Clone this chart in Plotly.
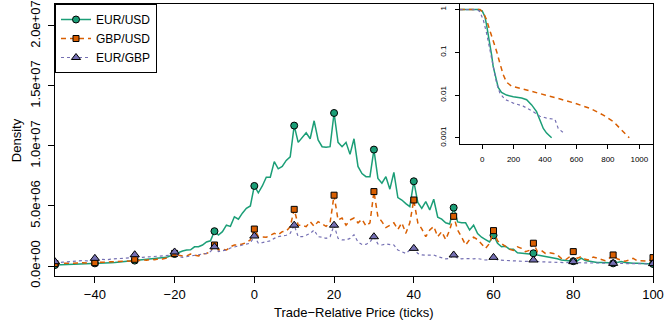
import numpy as np
import plotly.graph_objects as go

# precio relativo (ticks) y densidades, en millones
ticks = list(range(-50, 101))

eur_usd_mln = [
    0.08, 0.09, 0.10, 0.11, 0.12, 0.13, 0.14, 0.15, 0.16, 0.17,
    0.22, 0.22, 0.24, 0.26, 0.28, 0.30, 0.33, 0.36, 0.38, 0.40,
    0.45, 0.47, 0.50, 0.52, 0.55, 0.57, 0.60, 0.65, 0.72, 0.85,
    1.00, 1.10, 1.25, 1.33, 1.35, 1.60, 1.60, 1.75, 2.00, 2.10,
    2.90, 2.58, 2.86, 3.40, 3.30, 4.10, 3.90, 4.40, 4.80, 5.00,
    6.67, 6.10, 6.67, 7.40, 7.40, 8.70, 8.10, 8.30, 8.80, 9.10,
    11.70, 10.30, 10.70, 11.10, 10.60, 12.10, 10.50, 9.94, 9.90, 9.94,
    12.75, 10.30, 9.94, 10.30, 9.30, 10.60, 8.30, 7.70, 7.44, 7.44,
    9.70, 7.30, 6.90, 7.44, 6.40, 7.80, 5.70, 5.50, 5.20, 4.94,
    7.06, 5.30, 4.80, 5.36, 4.67, 5.56, 4.06, 3.90, 3.60, 3.50,
    4.86, 3.67, 3.60, 3.60, 3.00, 3.40, 2.70, 2.40, 2.20, 2.00,
    2.56, 1.90, 1.60, 1.65, 1.40, 1.40, 1.10, 1.05, 1.00, 1.00,
    1.06, 0.92, 0.85, 0.80, 0.75, 0.64, 0.60, 0.50, 0.45, 0.45,
    0.40, 0.42, 0.65, 0.45, 0.40, 0.33, 0.30, 0.30, 0.30, 0.28,
    0.22, 0.30, 0.38, 0.30, 0.25, 0.22, 0.22, 0.20, 0.20, 0.20,
    0.17,
]

gbp_usd_mln = [
    0.20, 0.20, 0.22, 0.20, 0.25, 0.22, 0.25, 0.28, 0.25, 0.30,
    0.28, 0.30, 0.32, 0.30, 0.35, 0.38, 0.35, 0.40, 0.42, 0.40,
    0.56, 0.45, 0.50, 0.48, 0.55, 0.52, 0.60, 0.58, 0.65, 0.75,
    1.05, 0.90, 0.83, 0.83, 1.00, 0.90, 0.83, 1.00, 1.05, 1.20,
    1.75, 1.33, 1.40, 1.33, 1.60, 1.75, 1.75, 1.83, 1.95, 2.17,
    3.08, 2.44, 2.44, 2.40, 2.55, 2.72, 2.60, 2.86, 2.90, 3.28,
    4.72, 3.40, 3.40, 3.28, 3.70, 3.30, 3.70, 3.50, 3.30, 3.60,
    5.90, 3.83, 4.00, 3.40, 3.83, 4.00, 3.60, 3.90, 3.33, 3.60,
    6.20, 4.10, 3.70, 3.20, 3.40, 3.60, 3.05, 3.60, 2.72, 3.60,
    5.50, 3.60, 3.10, 2.44, 3.00, 3.30, 2.44, 2.86, 2.20, 3.00,
    4.14, 3.00, 2.40, 1.75, 2.20, 2.40, 2.20, 1.83, 1.47, 1.88,
    2.95, 2.10, 1.88, 1.60, 1.40, 1.30, 1.60, 1.47, 1.20, 1.30,
    1.90, 1.20, 1.30, 1.05, 1.10, 1.05, 0.92, 0.64, 0.50, 0.75,
    1.20, 0.64, 0.78, 0.56, 0.50, 0.75, 0.64, 0.56, 0.45, 0.64,
    0.92, 0.60, 0.50, 0.39, 0.50, 0.64, 0.45, 0.45, 0.40, 0.40,
    0.70,
]

eur_gbp_mln = [
    0.36, 0.30, 0.32, 0.35, 0.38, 0.42, 0.40, 0.45, 0.42, 0.48,
    0.64, 0.50, 0.55, 0.52, 0.58, 0.60, 0.62, 0.58, 0.65, 0.68,
    0.94, 0.70, 0.72, 0.75, 0.72, 0.78, 0.80, 0.82, 0.85, 0.90,
    1.17, 0.78, 0.72, 0.78, 0.83, 0.90, 1.00, 1.00, 1.05, 1.20,
    1.60, 1.20, 1.28, 1.33, 1.50, 1.60, 1.67, 1.75, 1.83, 1.90,
    2.50, 1.90, 1.95, 2.00, 2.10, 2.30, 2.45, 2.50, 2.56, 2.72,
    3.40, 2.44, 2.44, 2.56, 2.72, 3.00, 2.44, 2.40, 2.30, 2.44,
    3.40, 2.30, 2.17, 2.17, 2.30, 2.60, 2.00, 1.80, 1.80, 2.00,
    2.44, 1.83, 1.75, 1.83, 1.80, 1.75, 1.33, 1.20, 1.05, 1.33,
    1.47, 1.05, 0.92, 0.90, 0.88, 0.92, 0.78, 0.66, 0.60, 0.62,
    0.92, 0.65, 0.60, 0.62, 0.58, 0.60, 0.62, 0.55, 0.50, 0.52,
    0.72, 0.50, 0.48, 0.45, 0.46, 0.42, 0.44, 0.40, 0.38, 0.40,
    0.50, 0.36, 0.34, 0.35, 0.32, 0.33, 0.30, 0.30, 0.28, 0.30,
    0.36, 0.28, 0.30, 0.26, 0.25, 0.27, 0.24, 0.25, 0.23, 0.22,
    0.22, 0.22, 0.20, 0.20, 0.20, 0.19, 0.20, 0.18, 0.18, 0.18,
    0.20,
]

# recuadro: cola (1 - F) en escala log
ins_eur_usd_x = [-142, -25, 0, 17, 28, 38, 49, 60, 70, 87, 102, 123, 155, 198, 251, 283, 315, 346, 367, 389, 410, 442]
ins_eur_usd_y = [1, 1, 0.93, 0.69, 0.44, 0.28, 0.16, 0.087, 0.047, 0.025, 0.015, 0.0115, 0.010, 0.0091, 0.0085,
                 0.0078, 0.0059, 0.0041, 0.0026, 0.00166, 0.00129, 0.001]
ins_gbp_usd_x = [-142, -14, 7, 28, 45, 66, 92, 113, 134, 155, 187, 261, 367, 474, 580, 686, 771, 835, 877, 909, 936]
ins_gbp_usd_y = [1, 1, 0.85, 0.58, 0.36, 0.21, 0.105, 0.055, 0.030, 0.020, 0.0162, 0.0138, 0.011, 0.0085,
                 0.0066, 0.0049, 0.0034, 0.0024, 0.00166, 0.00129, 0.001]
ins_eur_gbp_x = [-142, -30, -15, 7, 28, 49, 70, 92, 113, 145, 198, 261, 325, 367, 410, 463, 484, 516]
ins_eur_gbp_y = [1, 1, 0.89, 0.58, 0.28, 0.115, 0.047, 0.019, 0.011, 0.0079, 0.0065, 0.0055, 0.0041,
                 0.0032, 0.0029, 0.0027, 0.00166, 0.00132]

x = np.array(ticks)
series = [
    ("EUR/USD", np.array(eur_usd_mln) * 1e6, "#1B9E77", "solid", 1.5, "circle", 7),
    ("GBP/USD", np.array(gbp_usd_mln) * 1e6, "#D95F02", "5px,4px", 1.5, "square", 6),
    ("EUR/GBP", np.array(eur_gbp_mln) * 1e6, "#7570B3", "dot", 1.2, "triangle-up", 8),
]
inset = [(ins_eur_usd_x, ins_eur_usd_y), (ins_gbp_usd_x, ins_gbp_usd_y), (ins_eur_gbp_x, ins_eur_gbp_y)]

FONT = "Liberation Sans, Arial, Helvetica, sans-serif"
fig = go.Figure()

for (name, y, col, dash, lw, sym, ms), (ix, iy) in zip(series, inset):
    fig.add_trace(go.Scatter(x=x, y=y, mode="lines", line=dict(color=col, dash=dash, width=lw),
                             showlegend=False, hoverinfo="skip"))
    m = (x % 10) == 0  # marcadores cada 10 ticks
    fig.add_trace(go.Scatter(x=x[m], y=y[m], mode="markers", showlegend=False,
                             marker=dict(symbol=sym, size=ms, color=col, line=dict(color="black", width=1))))
    fig.add_trace(go.Scatter(x=[None], y=[None], mode="lines+markers", name=name,
                             line=dict(color=col, dash=dash, width=lw),
                             marker=dict(symbol=sym, size=ms, color=col, line=dict(color="black", width=1))))
    fig.add_trace(go.Scatter(x=ix, y=iy, mode="lines", xaxis="x2", yaxis="y2", showlegend=False,
                             line=dict(color=col, dash=dash, width=lw)))

axis_common = dict(showgrid=False, zeroline=False, showline=True, mirror=True, linecolor="black",
                   linewidth=1, ticks="outside", tickcolor="black", automargin=False,
                   ticklabeloverflow="allow")

fig.update_layout(
    width=664, height=332,
    margin=dict(l=55, r=11, t=4, b=56),
    paper_bgcolor="white", plot_bgcolor="white",
    font=dict(family=FONT, size=13, color="black"),
    xaxis=dict(range=[-50, 100], ticklen=6,
               tickvals=[-40, -20, 0, 20, 40, 60, 80, 100],
               ticktext=["\u221240", "\u221220", "0", "20", "40", "60", "80", "100"],
               **axis_common),
    yaxis=dict(range=[-0.833e6, 21.83e6], ticklen=6,
               tickvals=[0, 5e6, 1e7, 1.5e7, 2e7],
               ticktext=["0.0e+00", "5.0e+06", "1.0e+07", "1.5e+07", "2.0e+07"],
               tickangle=-90, ticklabelstandoff=3, **axis_common),
    xaxis2=dict(domain=[0.677, 1.0], anchor="y2", range=[-142, 1087], ticklen=4,
                tickvals=[0, 200, 400, 600, 800, 1000], tickfont=dict(size=8),
                ticklabelstandoff=4, **axis_common),
    yaxis2=dict(domain=[0.486, 1.0], anchor="x2", type="log", range=[-3.14, 0.13], ticklen=4,
                tickvals=[0.001, 0.01, 0.1, 1], ticktext=["0.001", "0.01", "0.1", "1"],
                tickangle=-90, tickfont=dict(size=8), ticklabelstandoff=6, **axis_common),
    legend=dict(x=0, y=1, xanchor="left", yanchor="top", bordercolor="black", borderwidth=1,
                bgcolor="white", font=dict(size=12), tracegroupgap=0),
    showlegend=True,
    annotations=[
        dict(text="Trade\u2212Relative Price (ticks)", xref="paper", yref="paper", x=0.5, y=-0.135,
             xanchor="center", yanchor="middle", showarrow=False, font=dict(size=13)),
        dict(text="Density", xref="paper", yref="paper", x=-0.065, y=0.5, textangle=-90,
             xanchor="center", yanchor="middle", showarrow=False, font=dict(size=13)),
    ],
)

# sin margen del <body>, para que la figura empiece en (0, 0)
fig.write_html("out.html", config={"displayModeBar": False},
               post_script="document.body.style.margin='0';")
